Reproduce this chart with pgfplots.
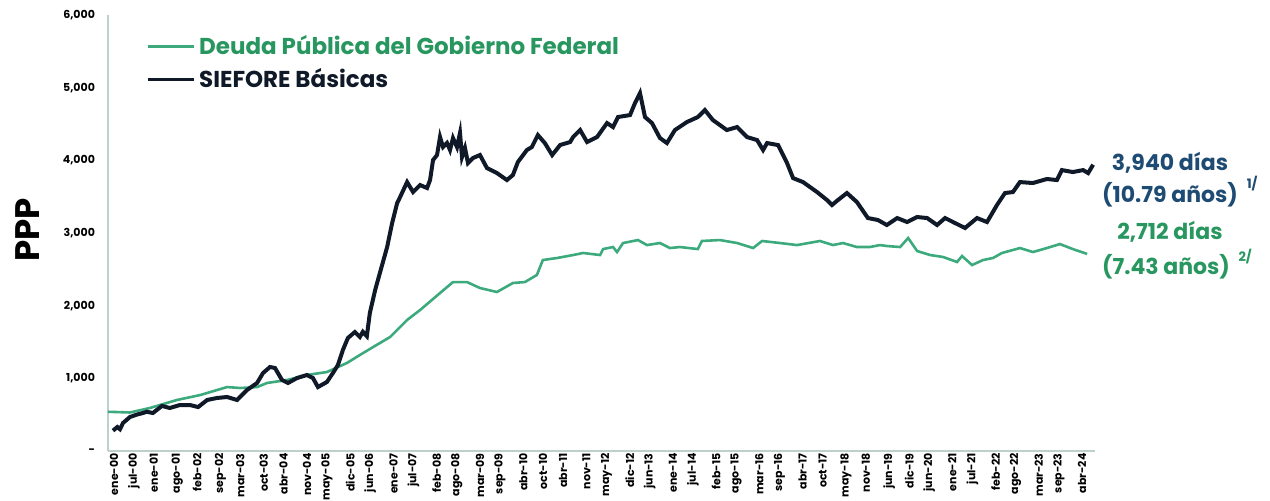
\documentclass[border=0pt]{standalone}
\usepackage{fontspec}
\setmainfont{Poppins}
\usepackage{pgfplots}
\pgfplotsset{compat=1.18}

\definecolor{gline}{RGB}{60,170,125}
\definecolor{gtext}{RGB}{40,150,95}
\definecolor{dline}{RGB}{15,25,40}
\definecolor{btext}{RGB}{30,75,115}
\definecolor{axcol}{RGB}{190,208,203}

\begin{document}
\begin{tikzpicture}
\useasboundingbox (-54pt,-24.5pt) rectangle (581pt,225.5pt);
\begin{axis}[
    scale only axis,
    width=493.4pt,
    height=218pt,
    xmin=-0.6, xmax=296,
    ymin=0, ymax=6000,
    clip=false,
    axis x line*=bottom,
    axis y line*=left,
    axis line style={axcol, line width=1pt},
    major tick length=0pt,
    xtick={0,6,12,19,25,32,38,45,51,58,64,71,77,84,90,97,103,110,116,123,129,135,142,148,155,161,168,174,181,187,194,200,207,213,220,226,233,239,245,252,258,265,271,278,284,291},
    xticklabels={ene-00,jul-00,ene-01,ago-01,feb-02,sep-02,mar-03,oct-03,abr-04,nov-04,may-05,dic-05,jun-06,ene-07,jul-07,feb-08,ago-08,mar-09,sep-09,abr-10,oct-10,abr-11,nov-11,may-12,dic-12,jun-13,ene-14,jul-14,feb-15,ago-15,mar-16,sep-16,abr-17,oct-17,may-18,nov-18,jun-19,dic-19,jun-20,ene-21,jul-21,feb-22,ago-22,mar-23,sep-23,abr-24},
    xticklabel style={rotate=90, anchor=east, font=\fontsize{5.5}{6}\selectfont\bfseries, inner sep=1pt, yshift=-2pt},
    ytick={0,1000,2000,3000,4000,5000,6000},
    yticklabels={-,{1,000},{2,000},{3,000},{4,000},{5,000},{6,000}},
    yticklabel style={font=\fontsize{5.5}{6}\selectfont\bfseries, xshift=-3pt},
    legend style={at={(0.032,0.973)}, anchor=north west, draw=none, fill=none,
        font=\fontsize{11.5}{13}\selectfont\bfseries, row sep=1.5pt,
        legend cell align=left},
    legend image code/.code={\draw[#1, line width=1.6pt] (0pt,0pt) -- (23pt,0pt);},
]
\addplot[gline, line width=1.3pt] coordinates {
(-0.6,540) (6.0,530) (12.0,592) (20.1,702) (27.1,770) (35.2,880) (39.1,867) (44.2,880)
(47.2,936) (53.2,977) (59.2,1046) (65.2,1087) (71.2,1211) (75.1,1321) (79.1,1431)
(84.2,1569) (89.3,1803) (93.2,1940) (99.2,2174) (103.1,2325) (107.3,2325) (111.2,2243)
(116.3,2188) (121.1,2312) (124.7,2325) (128.3,2422) (130.1,2628) (134.4,2656) (139.2,2697)
(142.2,2725) (147.3,2697) (148.2,2779) (151.2,2807) (152.4,2738) (154.2,2862) (158.7,2903)
(161.4,2834) (165.3,2862) (168.3,2793) (171.3,2807) (176.7,2779) (177.9,2890) (183.3,2903)
(188.5,2862) (193.3,2793) (196.0,2890) (201.4,2862) (206.5,2834) (213.4,2890) (217.3,2834)
(220.3,2862) (224.5,2807) (228.4,2807) (231.4,2834) (233.5,2821) (237.5,2807) (239.9,2931)
(242.6,2752) (246.5,2697) (250.4,2670) (254.6,2601) (256.1,2683) (259.1,2559) (262.4,2628)
(265.4,2656) (268.1,2725) (273.5,2793) (277.4,2738) (281.6,2793) (285.5,2848) (289.4,2779)
(293.7,2712)
};
\addlegendentry{\textcolor{gtext}{Deuda Pública del Gobierno Federal}}
\addplot[dline, line width=2pt] coordinates {
(0.9,280) (2.2,330) (3.0,300) (3.9,385) (6.0,468) (8.0,500) (9.9,523) (11.0,540) (12.9,523)
(15.6,620) (18.0,592) (21.0,633) (24.0,633) (26.5,605) (29.2,702) (32.2,730) (35.2,743)
(38.2,702) (41.2,840) (44.2,936) (46.0,1073) (48.1,1156) (49.6,1142) (51.7,977) (53.5,936)
(56.2,1004) (59.2,1046) (61.0,1004) (62.5,880) (65.2,950) (67.0,1073) (68.5,1183) (70.0,1390)
(71.5,1555) (73.6,1637) (75.1,1570) (76.0,1640) (77.2,1580) (78.1,1899) (79.7,2215)
(81.2,2463) (83.3,2807) (84.8,3137) (86.3,3412) (87.2,3495) (89.3,3701) (91.1,3564)
(93.2,3660) (95.3,3619) (96.2,3729) (97.1,4004) (98.3,4073) (99.2,4321) (100.1,4183)
(101.3,4238) (102.2,4142) (103.1,4307) (104.3,4183) (105.2,4376) (105.8,4045) (106.7,4169)
(107.6,3963) (109.1,4032) (111.2,4073) (113.3,3894) (116.3,3825) (119.3,3729) (121.1,3798)
(122.6,3977) (125.3,4142) (126.8,4183) (128.6,4348) (130.7,4238) (132.9,4073) (135.3,4211)
(138.3,4252) (139.2,4321) (141.3,4417) (143.4,4252) (146.4,4321)
(149.4,4513) (151.2,4458) (152.7,4596) (156.3,4623)
(157.8,4788) (159.3,4926) (160.8,4596) (162.9,4513) (165.3,4307) (167.4,4238) (169.8,4417)
(173.4,4527) (176.7,4596) (178.8,4692) (181.2,4555) (185.4,4417) (188.5,4458) (191.5,4320)
(194.5,4279) (196.3,4142) (197.5,4238) (200.8,4210) (203.5,3963) (205.3,3756) (208.3,3701)
(212.5,3564) (215.5,3454) (217.0,3385) (218.8,3454) (221.5,3550) (224.5,3426) (227.8,3206)
(230.8,3179) (233.5,3110) (236.6,3206) (239.6,3151) (242.6,3220) (245.6,3206) (248.6,3110)
(251.0,3206) (254.0,3137) (257.0,3069) (260.6,3206) (263.6,3151) (266.6,3385) (269.0,3550)
(271.4,3564) (273.5,3701) (277.4,3688) (281.6,3743) (284.6,3729) (286.1,3866) (289.4,3839)
(292.5,3866) (294.0,3825) (295.5,3940)
};
\addlegendentry{\textcolor{dline}{SIEFORE Básicas}}

\node[rotate=90, font=\fontsize{17}{18}\selectfont\bfseries] at (axis cs:-24.9,3040) {PPP};
\node[btext, font=\fontsize{11}{12}\selectfont\bfseries] at (axis cs:318.6,3963) {3,940 días};
\node[btext, font=\fontsize{11}{12}\selectfont\bfseries] at (axis cs:318.6,3520) {(10.79 años)};
\node[btext, font=\fontsize{6.5}{7}\selectfont\bfseries] at (axis cs:343.3,3680) {1/};
\node[gtext, font=\fontsize{11}{12}\selectfont\bfseries] at (axis cs:318.6,3013) {2,712 días};
\node[gtext, font=\fontsize{11}{12}\selectfont\bfseries] at (axis cs:317.4,2540) {(7.43 años)};
\node[gtext, font=\fontsize{6.5}{7}\selectfont\bfseries] at (axis cs:341.2,2680) {2/};
\end{axis}
\end{tikzpicture}
\end{document}
